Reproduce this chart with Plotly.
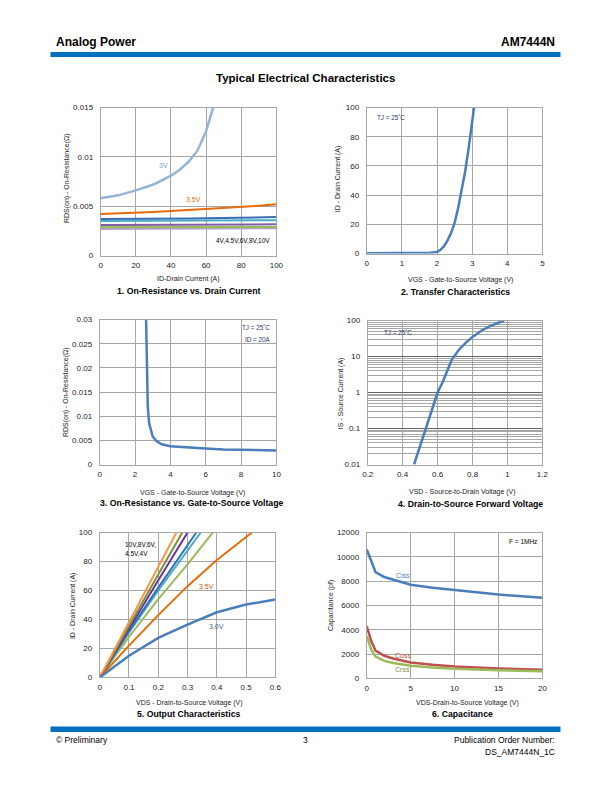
import plotly.graph_objects as go

W, H = 612, 792

# ---------------- data ----------------
# 1. On-resistance vs drain current
id1 = [0, 10, 20, 30, 40, 50, 60, 70, 80, 90, 100]
r_3v_id = [0, 10, 20, 30, 40, 45, 50, 55, 60, 64, 66]
r_3v = [0.0058, 0.0061, 0.0066, 0.0072, 0.0081, 0.0087, 0.0095, 0.0106, 0.0126, 0.0150, 0.0162]
r_35v = [0.0042, 0.00425, 0.0043, 0.0044, 0.0045, 0.0046, 0.0047, 0.0048, 0.0049, 0.00505, 0.0052]
r_4v = [0.0037, 0.0037, 0.00372, 0.00372, 0.00375, 0.00375, 0.00378, 0.0038, 0.0038, 0.00385, 0.0039]
r_45v = [0.0035, 0.0035, 0.0035, 0.00352, 0.00352, 0.00353, 0.00354, 0.00355, 0.00356, 0.00357, 0.00358]
r_6v = [0.0031, 0.0031, 0.0031, 0.0031, 0.00311, 0.00311, 0.00312, 0.00313, 0.00314, 0.00315, 0.00316]
r_8v = [0.0029, 0.0029, 0.0029, 0.0029, 0.0029, 0.0029, 0.0029, 0.0029, 0.0029, 0.0029, 0.0029]
r_10v = [0.0027, 0.0027, 0.0027, 0.00272, 0.00272, 0.00272, 0.00273, 0.00274, 0.00274, 0.00275, 0.00276]

# 2. Transfer characteristics
vgs2 = [0, 1.0, 1.8, 2.0, 2.1, 2.2, 2.3, 2.4, 2.5, 2.6, 2.7, 2.8, 2.9, 3.0, 3.06]
id2 = [0.2, 0.3, 0.5, 1.0, 2.5, 5, 9, 14, 21, 31, 43, 56, 72, 90, 101]

# 3. On-resistance vs VGS
vgs3 = [2.62, 2.65, 2.68, 2.72, 2.8, 2.9, 3.0, 3.2, 3.5, 4, 5, 6, 7, 8, 9, 10]
r3 = [0.031, 0.025, 0.018, 0.012, 0.0085, 0.0068, 0.0058, 0.0049, 0.0042, 0.0038, 0.0035, 0.0033, 0.0031, 0.0030, 0.0030, 0.0029]

# 4. Forward voltage
vsd4 = [0.465, 0.5, 0.534, 0.57, 0.6, 0.63, 0.66, 0.68, 0.72, 0.76, 0.8, 0.85, 0.9, 0.95, 0.98]
is4 = [0.01, 0.032, 0.1, 0.35, 1.0, 2.0, 4.5, 8, 15, 24, 35, 52, 70, 88, 100]

# 5. Output characteristics
vds5 = [0, 0.1, 0.2, 0.3, 0.4, 0.5, 0.6]
id5_30 = [0, 15, 27.3, 36.5, 45, 50.3, 53.8]
vds5_35 = [0, 0.1, 0.2, 0.3, 0.4, 0.52]
id5_35 = [0, 22, 43, 63, 81, 100]
vds5_40 = [0, 0.1, 0.2, 0.3, 0.386]
id5_40 = [0, 28, 54, 78, 100]
vds5_45 = [0, 0.1, 0.2, 0.3, 0.345]
id5_45 = [0, 31, 60, 88, 100]
vds5_5 = [0, 0.1, 0.2, 0.3, 0.33]
id5_5 = [0, 32, 62, 91, 100]
vds5_6 = [0, 0.1, 0.2, 0.3]
id5_6 = [0, 34, 67, 100]
vds5_8 = [0, 0.1, 0.2, 0.282]
id5_8 = [0, 36, 71, 100]
vds5_10 = [0, 0.1, 0.2, 0.262]
id5_10 = [0, 38, 76, 100]

# 6. Capacitance
vds6 = [0, 0.5, 1, 2, 3, 5, 7.5, 10, 15, 20]
ciss = [10600, 9700, 8750, 8340, 8150, 7710, 7450, 7250, 6900, 6640]
coss = [4300, 3100, 2290, 1870, 1650, 1320, 1130, 990, 830, 720]
crss = [3500, 2400, 1800, 1450, 1280, 1050, 900, 800, 680, 600]

captions = ["1. On-Resistance vs. Drain Current", "2. Transfer Characteristics",
            "3. On-Resistance vs. Gate-to-Source Voltage", "4. Drain-to-Source Forward Voltage",
            "5. Output Characteristics", "6. Capacitance"]

# ---------------- layout helpers ----------------
# page positions below are given in page pixels of the reference; they are mapped
# to the figure's paper coordinates (with a small correction for the display scaling)
SX, OX = 0.975, 7.65
SY, OY = 0.9887, 3.46

def px(x):
    return ((x - OX) / SX) / W

def py(y):
    return 1 - ((y - OY) / SY) / H

def xd(a, b):
    return [px(a), px(b)]

def yd(top, bot):
    return [py(bot), py(top)]

FONT = "Liberation Sans, Arial, sans-serif"
GRID = "#a6a6a6"
TICKF = dict(family=FONT, size=8, color="#222")

fig = go.Figure()

def add(x, y, color, n, width=2.5):
    fig.add_trace(go.Scatter(x=x, y=y, mode="lines", line=dict(color=color, width=width),
                             xaxis="x" + ("" if n == 1 else str(n)),
                             yaxis="y" + ("" if n == 1 else str(n)),
                             showlegend=False, hoverinfo="skip"))

# subplot 1
add(id1, r_10v, "#b3a2c7", 1, 2)
add(id1, r_8v, "#9bbb59", 1, 2)
add(id1, r_6v, "#7f5fa8", 1, 2)
add(id1, r_45v, "#4bacc6", 1, 2)
add(id1, r_4v, "#3a6fb5", 1, 2)
add(id1, r_35v, "#e46c0a", 1, 2)
add(r_3v_id, r_3v, "#95b3d7", 1, 2.5)
# subplot 2
add(vgs2, id2, "#4a7ebb", 2, 2.5)
# subplot 3
add(vgs3, r3, "#4a7ebb", 3, 2.5)
# subplot 4
add(vsd4, is4, "#4a7ebb", 4, 2.5)
# subplot 5
add(vds5_40, id5_40, "#9bbb59", 5, 2)
add(vds5_45, id5_45, "#4bacc6", 5, 2)
add(vds5_5, id5_5, "#2e75b6", 5, 2)
add(vds5_6, id5_6, "#7030a0", 5, 2)
add(vds5_8, id5_8, "#77933c", 5, 2)
add(vds5_10, id5_10, "#f79646", 5, 2)
add(vds5_35, id5_35, "#e46c0a", 5, 2)
add(vds5, id5_30, "#4a7ebb", 5, 2.5)
# subplot 6
add(vds6, ciss, "#4a7ebb", 6, 2.5)
add(vds6, coss, "#c0504d", 6, 2.5)
add(vds6, crss, "#9bbb59", 6, 2.5)

def axis(dom, rng, dtick, anchor, **kw):
    d = dict(domain=dom, range=rng, dtick=dtick, anchor=anchor, showgrid=True, gridcolor=GRID,
             gridwidth=1, showline=True, linecolor=GRID, linewidth=1, mirror=True, zeroline=False,
             ticks="", tickfont=TICKF, fixedrange=True)
    d.update(kw)
    return d

lay = {}
boxes = [
    (102, 277, 107, 255),
    (367, 542, 107, 253),
    (101, 277, 319, 464),
    (368, 542, 320, 464),
    (101, 276, 532, 677),
    (367, 542, 532, 678),
]
xr = [dict(range=[0, 100], dtick=20), dict(range=[0, 5], dtick=1), dict(range=[0, 10], dtick=2),
      dict(range=[0.2, 1.2], dtick=0.2), dict(range=[0, 0.6], dtick=0.1), dict(range=[0, 20], dtick=5)]
yr = [dict(range=[0, 0.015], dtick=0.005), dict(range=[0, 100], dtick=20),
      dict(range=[0, 0.03], dtick=0.005), dict(range=[-2, 2], dtick=1),
      dict(range=[0, 100], dtick=20), dict(range=[0, 12000], dtick=2000)]
for i in range(6):
    n = "" if i == 0 else str(i + 1)
    x0, x1, y0, y1 = boxes[i]
    xa = axis(xd(x0, x1), xr[i]["range"], xr[i]["dtick"], "y" + n, ticklabelstandoff=2)
    ya = axis(yd(y0, y1), yr[i]["range"], yr[i]["dtick"], "x" + n, ticklabelstandoff=5)
    if i == 3:
        xa["tickvals"] = [0.2, 0.4, 0.6, 0.8, 1.0, 1.2]
        xa["ticktext"] = ["0.2", "0.4", "0.6", "0.8", "1", "1.2"]
        ya["type"] = "log"
        ya["dtick"] = 1
        ya["tickvals"] = [0.01, 0.1, 1, 10, 100]
        ya["ticktext"] = ["0.01", "0.1", "1", "10", "100"]
        ya["gridcolor"] = "#666"
        ya["minor"] = dict(showgrid=True, gridcolor="#a6a6a6", dtick="D1", gridwidth=1)
    if i in (0, 2):
        ya["tickvals"] = [k * 0.005 for k in range(int(round(yr[i]["range"][1] / 0.005)) + 1)]
        ya["ticktext"] = ["0"] + ["%g" % round(k * 0.005, 3) for k in range(1, len(ya["tickvals"]))]
    if i == 4:
        xa["tickvals"] = [0, 0.1, 0.2, 0.3, 0.4, 0.5, 0.6]
        xa["ticktext"] = ["0", "0.1", "0.2", "0.3", "0.4", "0.5", "0.6"]
    if i == 5:
        ya["tickformat"] = "d"
    lay["xaxis" + n] = xa
    lay["yaxis" + n] = ya

ann = []

def ptext(x, y, t, size=8, bold=False, xanchor="center", color="#000", angle=0, yanchor="middle"):
    ann.append(dict(x=px(x), y=py(y), xref="paper", yref="paper", text=("<b>%s</b>" % t) if bold else t,
                    showarrow=False, xanchor=xanchor, yanchor=yanchor, textangle=angle,
                    font=dict(family=FONT, size=size, color=color)))

def dtext(n, x, y, t, color, size=7, xanchor="center"):
    s = "" if n == 1 else str(n)
    ann.append(dict(x=x, y=y, xref="x" + s, yref="y" + s, text=t, showarrow=False, xanchor=xanchor,
                    font=dict(family=FONT, size=size, color=color)))

# header / footer
ptext(55, 41, "Analog Power", 12, True, "left")
ptext(557, 41, "AM7444N", 12, True, "right")
ptext(306, 77, "Typical Electrical Characteristics", 11.5, True)
ptext(55, 740, "© Preliminary", 8.5, False, "left")
ptext(306, 740, "3", 8.5)
ptext(557, 740, "Publication Order Number:", 8.5, False, "right")
ptext(557, 752, "DS_AM7444N_1C", 8.5, False, "right")

# axis titles and captions
xt = [(189, 278, "ID-Drain Current (A)"), (460, 279, "VGS - Gate-to-Source Voltage (V)"),
      (193, 492, "VGS - Gate-to-Source Voltage (V)"), (462, 491, "VSD - Source-to-Drain Voltage (V)"),
      (190, 703, "VDS - Drain-to-Source Voltage (V)"), (467, 703, "VDS-Drain-to-Source Voltage (V)")]
yt = [(68, 178, "RDS(on) - On-Resistance(Ω)"), (338, 178, "ID - Drain Current (A)"),
      (67, 392, "RDS(on) - On-Resistance(Ω)"), (341, 393, "IS - Source Current (A)"),
      (74, 605, "ID - Drain Current (A)"), (331, 605, "Capacitance (pf)")]
cp = [(189, 290), (455, 291), (192, 502), (470, 503), (189, 714), (462, 714)]
for i in range(6):
    ptext(xt[i][0], xt[i][1], xt[i][2], 7, False, "center", "#222")
    ptext(yt[i][0], yt[i][1], yt[i][2], 7, False, "center", "#222", -90)
    ptext(cp[i][0], cp[i][1], captions[i], 8.7, True)

# in-plot labels
NAVY = "#1f3864"
dtext(1, 36, 0.0091, "3V", "#7f9fd0")
dtext(1, 53, 0.0057, "3.5V", "#e46c0a")
dtext(1, 81, 0.0015, "4V,4.5V,6V,8V,10V", "#000", 6.5)
dtext(2, 0.23, 93, "TJ = 25˚C", NAVY, 6.3, "left")
dtext(3, 9.77, 0.0283, "TJ = 25˚C", NAVY, 6.3, "right")
dtext(3, 9.77, 0.0259, "ID = 20A", NAVY, 6.3, "right")
ann.append(dict(x=0.28, y=1.67, xref="x4", yref="y4", text="TJ = 25˚C", showarrow=False, xanchor="left",
                font=dict(family=FONT, size=6.3, color=NAVY)))
dtext(5, 0.079, 91.7, "10V,8V,6V,", "#000", 6.5, "left")
dtext(5, 0.079, 85.5, "4.5V,4V", "#000", 6.5, "left")
dtext(5, 0.365, 63, "3.5V", "#c55a11")
dtext(5, 0.40, 35, "3.0V", "#3f5f8f")
dtext(6, 19.6, 11260, "F = 1MHz", "#000", 6.5, "right")
dtext(6, 4.1, 8450, "Ciss", "#4a7ebb", 7)
dtext(6, 4.1, 1900, "Coss", "#c0504d", 7)
dtext(6, 4.1, 720, "Crss", "#77933c", 7)

shapes = [
    dict(type="rect", xref="paper", yref="paper", x0=px(52), x1=px(560), y0=py(56.5), y1=py(51.5),
         fillcolor="#0070c0", line=dict(width=0)),
    dict(type="rect", xref="paper", yref="paper", x0=px(52), x1=px(560), y0=py(731.5), y1=py(726),
         fillcolor="#0070c0", line=dict(width=0)),
]

fig.update_layout(width=W, height=H, margin=dict(l=0, r=0, t=0, b=0), paper_bgcolor="white",
                  plot_bgcolor="white", showlegend=False, annotations=ann, shapes=shapes, **lay)

PAGE_CSS = ("var s=document.createElement('style');"
            "s.textContent='html,body{margin:0!important;padding:0!important;overflow:hidden;"
            "width:612px;height:792px;}.plotly-graph-div{display:block;margin:0;}';"
            "document.head.appendChild(s);window.scrollTo(0,0);")

fig.write_html("out.html", config={"displayModeBar": False, "responsive": False}, post_script=PAGE_CSS)
